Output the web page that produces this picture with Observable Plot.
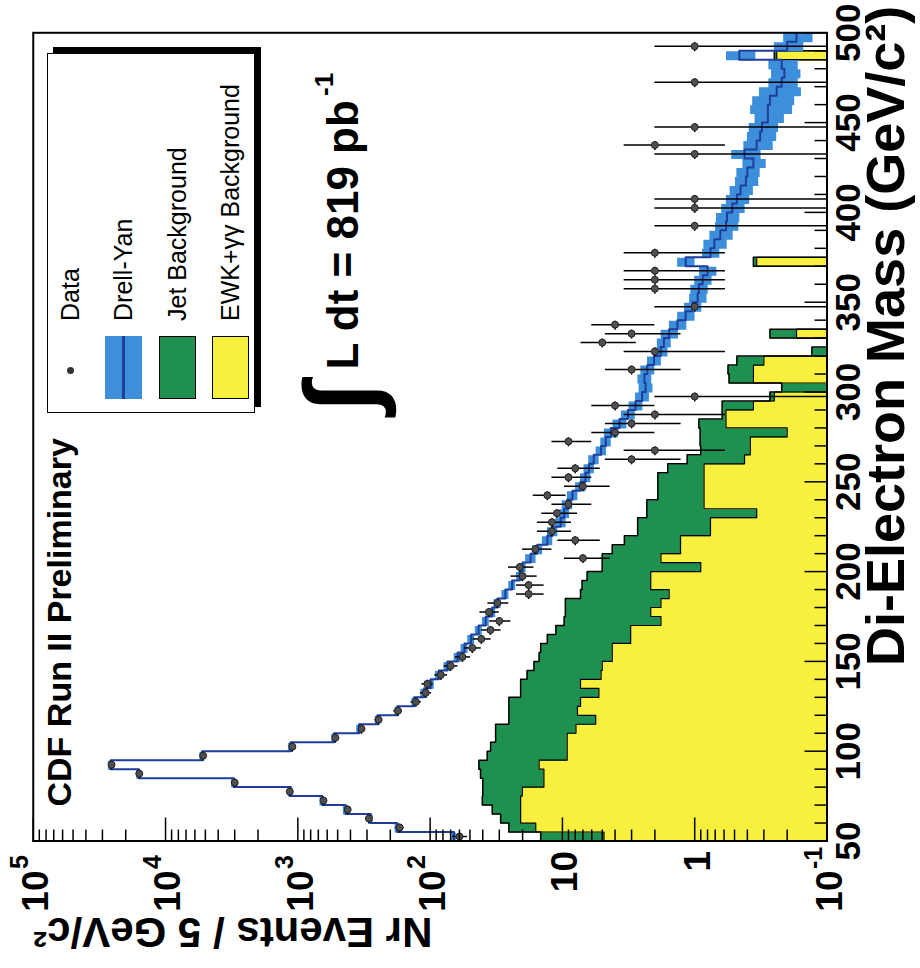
<!DOCTYPE html>
<html>
<head>
<meta charset="utf-8">
<script src="https://cdn.jsdelivr.net/npm/d3@7"></script>
<script src="https://cdn.jsdelivr.net/npm/@observablehq/plot@0.6"></script>
<style>
html,body{margin:0;padding:0;background:#fff;overflow:hidden;}
#page{position:relative;width:920px;height:968px;overflow:hidden;background:#fff;}
#rot{position:absolute;left:0;top:0;width:968px;height:920px;transform-origin:0 0;transform:translate(0px,968px) rotate(-90deg);font-family:"Liberation Sans",Arial,Helvetica,sans-serif;}
#chart{position:absolute;left:0;top:0;}
#legend{position:absolute;left:555px;top:47px;width:358px;height:206px;border:1.5px solid #000;box-shadow:6px 6px 0 #000;background:#fff;}
.row{position:absolute;left:0;height:37px;width:100%;}
.sw{position:absolute;left:13px;top:0;width:63px;height:37px;box-sizing:border-box;}
.lt{position:absolute;left:91px;top:0;line-height:37px;font-size:25px;color:#000;white-space:nowrap;}
</style>
</head>
<body>
<div id="page"><div id="rot"><div id="chart"></div>
<div id="legend">
  <div class="row" style="top:4px"><div style="position:absolute;left:38px;top:15px;width:7px;height:7px;border-radius:50%;background:#333;"></div><div class="lt">Data</div></div>
  <div class="row" style="top:57px"><div class="sw" style="background:#3d8fdb;"><div style="position:absolute;left:0;right:0;top:17px;height:2.5px;background:#1f3d99;"></div></div><div class="lt">Drell-Yan</div></div>
  <div class="row" style="top:111px"><div class="sw" style="background:#1e9150;border:1.5px solid #000;"></div><div class="lt">Jet Background</div></div>
  <div class="row" style="top:164px"><div class="sw" style="background:#f8ef3f;border:1.5px solid #000;"></div><div class="lt">EWK+γγ Background</div></div>
</div>
</div></div>
<script>
// ---- data (5 GeV/c^2 bins, lower edges) ----
const massLow = d3.range(50, 500, 5);
const drellYan = [66,177,281,435,653,1133,3040,15900,26000,5280,
 1133,533,345,250,177,132,111,99,86,74,
 62,55,49,43,38,34,31,27,24,21,
 20,17.4,15.5,13,11.9,10.3,9.7,9.2,8.4,7.3,
 6.7,6.3,5.8,5.1,4.7,4.3,3.7,3.2,2.8,2.5,
 2.35,2.4,2.28,2.03,1.81,1.71,1.56,1.35,1.17,1.04,
 0.95,0.93,0.87,0.80,1.17,0.76,0.71,0.64,0.58,0.57,
 0.52,0.48,0.45,0.41,0.40,0.36,0.42,0.34,0.32,0.31,
 0.28,0.28,0.27,0.24,0.22,0.21,0.22,0.46,0.20,0.17];
const drellYanErr = [0.04,0.04,0.04,0.04,0.04,0.04,0.04,0.04,0.04,0.04,
 0.04,0.04,0.04,0.04,0.04,0.04,0.06,0.06,0.06,0.06,
 0.06,0.06,0.06,0.06,0.06,0.06,0.06,0.06,0.06,0.06,
 0.06,0.09,0.09,0.09,0.09,0.09,0.09,0.09,0.09,0.09,
 0.09,0.09,0.09,0.09,0.09,0.12,0.12,0.12,0.12,0.12,
 0.12,0.12,0.12,0.12,0.12,0.12,0.15,0.15,0.15,0.15,
 0.15,0.15,0.15,0.15,0.15,0.15,0.2,0.2,0.2,0.2,
 0.2,0.2,0.2,0.2,0.2,0.2,0.25,0.25,0.25,0.25,
 0.25,0.35,0.35,0.35,0.25,0.25,0.25,0.25,0.25,0.25];
const jetTotal = [14.6,25.4,29.3,33.9,40.3,40,40,41.6,42.8,37,
 34.9,32,32,25.4,25.4,25.4,20.7,20.7,18.5,16.4,
 15,14.6,13,11.2,9.7,9.5,9.5,7.3,7.1,6.5,
 5.0,5.0,4.2,3.4,2.7,2.7,2.3,2.3,1.9,1.9,
 1.9,1.6,1.14,0.9,0.91,0.91,0.93,0.62,0.62,0.27,
 0.22,0.55,0.56,0.48,0.13,0,0.27,0,0,0,
 0,0,0,0,0.36,0,0,0,0,0,
 0,0,0,0,0,0,0,0,0,0,
 0,0,0,0,0,0,0,0.25,0,0];
const ewk = [4.85,15.9,20.7,20.7,20.7,20.1,13.8,13.8,15,9.2,
 9.2,9.2,7.9,5.6,7.7,7.3,5.3,7.3,5.1,5.0,
 4.2,4.2,3.05,3.05,1.8,2.15,1.8,1.56,2.15,2.15,
 0.9,1.8,1.28,1.28,0.76,0.76,0.34,0.85,0.85,0.85,
 0.85,0.85,0.42,0.38,0.38,0.2,0.58,0.58,0.36,0.25,
 0,0.36,0.36,0.3,0,0,0.17,0,0,0,
 0,0,0,0,0.34,0,0,0,0,0,
 0,0,0,0,0,0,0,0,0,0,
 0,0,0,0,0,0,0,0.24,0,0];
const dataCounts = [60,170,290,420,640,1150,3000,15800,25600,5200,
 1100,520,330,245,175,128,108,105,83,70,
 57,48,41,35,30,36,31,18,18,20,
 21,7,16,8,12,12,11,9,13,7,
 9,8,3,2,9,4,3,2,4,1,
 0,0,3,0,2,5,3,4,0,1,
 0,2,2,2,0,2,0,0,1,0,
 1,1,0,0,0,0,1,2,0,1,
 0,0,0,0,1,0,0,0,1,0];
const massMajorTicks = [50,100,150,200,250,300,350,400,450,500];
const massMinorTicks = d3.range(60, 500, 10).filter(m => m % 50 !== 0);
const decadeTicks = [0.1,1,10,100,1000,10000,100000];
const expLabels = [{v:100000,base:"10",exp:"5"},{v:10000,base:"10",exp:"4"},{v:1000,base:"10",exp:"3"},{v:100,base:"10",exp:"2"},{v:0.1,base:"10",exp:"-1"}];
const plainLabels = [{v:10,t:"10"},{v:1,t:"1"}];
const logMinorTicks = decadeTicks.slice(0,-1).flatMap(d => [2,3,4,5,6,7,8,9].map(k => k*d));

const FLOOR = 0.1;
const W = 5;
function steps(vals){
  const out = [];
  vals.forEach((v,i) => { const y = Math.max(v, FLOOR); out.push({x: massLow[i], y}, {x: massLow[i] + W, y}); });
  return out;
}
const dyBand = [];
drellYan.forEach((v,i) => { const e = drellYanErr[i]; const lo = v*(1-e), hi = v*(1+e); dyBand.push({x: massLow[i], lo, hi}, {x: massLow[i]+W, lo, hi}); });
const pts = dataCounts.map((n,i) => ({lo: massLow[i], hi: massLow[i]+W, mid: massLow[i]+W/2, n})).filter(d => d.n > 0);

const GREEN = "#1e9150", YELLOW = "#f8ef3f", BAND = "#3d8fdb", DYLINE = "#1f3d99";
const bold = {fontWeight: "bold"};

const chart = Plot.plot({
  width: 968, height: 920,
  marginLeft: 126.5, marginRight: 33.3, marginTop: 32.75, marginBottom: 93.5,
  x: {type: "linear", domain: [50, 500]},
  y: {type: "log", domain: [0.1, 100000]},
  style: {fontFamily: "'Liberation Sans', Arial, Helvetica, sans-serif", background: "transparent", color: "#000", overflow: "visible"},
  marks: [
    Plot.areaY(steps(jetTotal), {x: "x", y1: () => FLOOR, y2: "y", fill: GREEN}),
    Plot.areaY(steps(ewk), {x: "x", y1: () => FLOOR, y2: "y", fill: YELLOW}),
    Plot.line(steps(jetTotal), {x: "x", y: "y", stroke: "#000", strokeWidth: 1.5}),
    Plot.line(steps(ewk), {x: "x", y: "y", stroke: "#000", strokeWidth: 1.2}),
    Plot.areaY(dyBand, {x: "x", y1: "lo", y2: "hi", fill: BAND}),
    Plot.line(steps(drellYan), {x: "x", y: "y", stroke: DYLINE, strokeWidth: 2}),
    Plot.ruleX(pts, {x: "mid", y1: d => Math.max(d.n - Math.sqrt(d.n), FLOOR), y2: d => d.n + Math.sqrt(d.n), stroke: "#000", strokeWidth: 1.5}),
    Plot.ruleY(pts, {y: "n", x1: "lo", x2: "hi", stroke: "#000", strokeWidth: 1.5}),
    Plot.dot(pts, {x: "mid", y: "n", r: 3.5, fill: "#505050", stroke: "#222", strokeWidth: 1}),
    Plot.axisX({ticks: massMinorTicks, tickSize: -12, tickFormat: () => "", label: null, strokeWidth: 1.5}),
    Plot.axisX({ticks: massMajorTicks, tickSize: -22, tickFormat: () => "", label: null, strokeWidth: 1.5}),
    Plot.axisY({ticks: logMinorTicks, tickSize: -12, tickFormat: () => "", label: null, strokeWidth: 1.5}),
    Plot.axisY({ticks: decadeTicks, tickSize: -24, tickFormat: () => "", label: null, strokeWidth: 1.5}),
    Plot.frame({stroke: "#000", strokeWidth: 2}),
    Plot.text(massMajorTicks, {x: d => d, text: d => String(d), frameAnchor: "bottom", dy: 22, lineAnchor: "middle", textAnchor: "middle", fontSize: 35, ...bold}),
    Plot.text(expLabels, {y: "v", text: "base", frameAnchor: "left", dx: -29.5, dy: 3, textAnchor: "end", lineAnchor: "middle", fontSize: 37, ...bold}),
    Plot.text(expLabels, {y: "v", text: "exp", frameAnchor: "left", dx: -28, dy: -13, textAnchor: "start", lineAnchor: "middle", fontSize: 25, ...bold}),
    Plot.text(plainLabels, {y: "v", text: "t", frameAnchor: "left", dx: -10, dy: 3, textAnchor: "end", lineAnchor: "middle", fontSize: 37, ...bold}),
    Plot.text(["Di-Electron Mass (GeV/c²)"], {text: d => d, frameAnchor: "bottom-right", dx: 27, dy: 77, textAnchor: "end", lineAnchor: "bottom", fontSize: 54, ...bold}),
    Plot.text(["Nr Events / 5 GeV/c²"], {text: d => d, frameAnchor: "top-left", rotate: -90, dx: -76.5, dy: 0, textAnchor: "end", lineAnchor: "bottom", fontSize: 42, ...bold}),
    Plot.text(["CDF Run II Preliminary"], {text: d => d, frameAnchor: "top-left", dx: 34.5, dy: 37.5, textAnchor: "start", lineAnchor: "bottom", fontSize: 34, ...bold}),
    Plot.text(["∫"], {text: d => d, frameAnchor: "top-left", dx: 443.5, dy: 309, textAnchor: "middle", lineAnchor: "middle", fontSize: 100, ...bold}),
    Plot.text(["L dt = 819 pb"], {text: d => d, frameAnchor: "top-left", dx: 471.5, dy: 324.25, textAnchor: "start", lineAnchor: "bottom", fontSize: 44, ...bold}),
    Plot.text(["-1"], {text: d => d, frameAnchor: "top-left", dx: 745, dy: 300, textAnchor: "start", lineAnchor: "bottom", fontSize: 26, ...bold})
  ]
});
document.getElementById("chart").appendChild(chart);
</script>
</body>
</html>
